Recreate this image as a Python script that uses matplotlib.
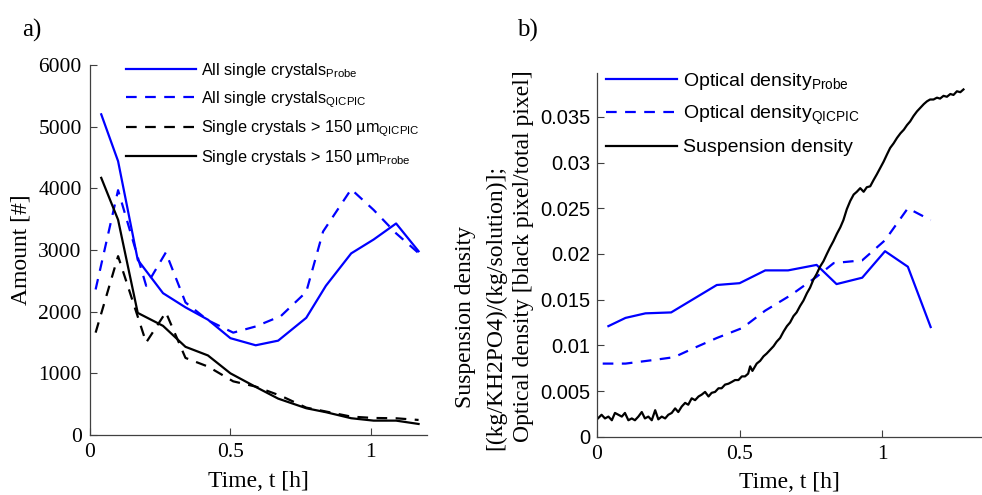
import matplotlib.pyplot as plt

W, H = 982, 495

# ---- panel a) amount of single crystals ----
t_probe = [0.04, 0.10, 0.17, 0.26, 0.34, 0.42, 0.50, 0.59, 0.67, 0.77, 0.84, 0.93, 1.01, 1.09, 1.17]
t_qicpic = [0.02, 0.10, 0.20, 0.27, 0.34, 0.42, 0.51, 0.59, 0.68, 0.77, 0.83, 0.93, 1.01, 1.09, 1.17]

all_probe = [5200, 4440, 2840, 2300, 2070, 1870, 1570, 1455, 1530, 1900, 2420, 2945, 3170, 3430, 2980]
all_qicpic = [2360, 3970, 2420, 2960, 2150, 1860, 1660, 1760, 1930, 2320, 3300, 3985, 3650, 3270, 2950]
big_qicpic = [1660, 2900, 1500, 1990, 1250, 1110, 870, 785, 634, 444, 390, 298, 276, 271, 244]
big_probe = [4170, 3490, 1980, 1770, 1430, 1290, 1000, 780, 590, 434, 370, 272, 233, 233, 179]

# ---- panel b) optical / suspension density ----
od_probe = [0.0121, 0.0130, 0.0135, 0.0136, 0.0151, 0.0166, 0.0168, 0.0182, 0.0182, 0.0188,
            0.0167, 0.0174, 0.0203, 0.0186, 0.0120]
od_qicpic = [0.0080, 0.0080, 0.0084, 0.0087, 0.0097, 0.0108, 0.0119, 0.0138, 0.0155, 0.0175,
             0.0190, 0.0193, 0.0215, 0.0250, 0.0237]

t_susp = [0.000, 0.016, 0.028, 0.040, 0.052, 0.063, 0.075, 0.087, 0.098, 0.110,
          0.122, 0.133, 0.145, 0.157, 0.168, 0.180, 0.192, 0.204, 0.215, 0.227,
          0.239, 0.250, 0.262, 0.274, 0.285, 0.297, 0.309, 0.320, 0.332, 0.344,
          0.356, 0.367, 0.379, 0.391, 0.402, 0.414, 0.426, 0.437, 0.449, 0.461,
          0.473, 0.484, 0.496, 0.508, 0.519, 0.530, 0.537, 0.545, 0.560, 0.572,
          0.584, 0.595, 0.607, 0.619, 0.630, 0.642, 0.654, 0.666, 0.677, 0.689,
          0.700, 0.712, 0.724, 0.736, 0.747, 0.759, 0.770, 0.782, 0.794, 0.806,
          0.817, 0.829, 0.841, 0.853, 0.864, 0.876, 0.888, 0.900, 0.911, 0.923,
          0.935, 0.946, 0.958, 0.970, 0.981, 0.993, 1.005, 1.017, 1.028, 1.040,
          1.052, 1.064, 1.076, 1.087, 1.098, 1.110, 1.122, 1.134, 1.146, 1.157,
          1.168, 1.180, 1.192, 1.203, 1.215, 1.227, 1.239, 1.250, 1.262, 1.274, 1.285]
susp = [0.0019, 0.0024, 0.0020, 0.0022, 0.0018, 0.0026, 0.0024, 0.0022, 0.0026, 0.0018,
        0.0020, 0.0018, 0.0022, 0.0027, 0.0020, 0.0022, 0.0018, 0.0029, 0.0019, 0.0022,
        0.0020, 0.0024, 0.0026, 0.0031, 0.0027, 0.0033, 0.0037, 0.0035, 0.0042, 0.0040,
        0.0044, 0.0046, 0.0049, 0.0044, 0.0048, 0.0049, 0.0053, 0.0053, 0.0057, 0.0058,
        0.0060, 0.0062, 0.0062, 0.0066, 0.0066, 0.0069, 0.0077, 0.0072, 0.0080, 0.0083,
        0.0088, 0.0091, 0.0095, 0.0099, 0.0104, 0.0108, 0.0115, 0.0121, 0.0125, 0.0132,
        0.0136, 0.0143, 0.0149, 0.0157, 0.0163, 0.0172, 0.0178, 0.0186, 0.0192, 0.0200,
        0.0207, 0.0214, 0.0222, 0.0229, 0.0237, 0.0249, 0.0258, 0.0265, 0.0268, 0.0272,
        0.0268, 0.0273, 0.0274, 0.0281, 0.0287, 0.0294, 0.0301, 0.0309, 0.0316, 0.0321,
        0.0327, 0.0332, 0.0336, 0.0341, 0.0345, 0.0351, 0.0356, 0.0360, 0.0364, 0.0367,
        0.0369, 0.0369, 0.0371, 0.0370, 0.0373, 0.0372, 0.0375, 0.0374, 0.0378, 0.0377, 0.0380]

serif = 'Liberation Serif'
sans = 'Liberation Sans'
blue = '#0000ff'
dash = (4.8, 3.8)


def fx(x, y):
    # pixel position -> figure fraction
    return x / W, 1 - y / H


def style_axes(ax):
    for s in ['top', 'right']:
        ax.spines[s].set_visible(False)
    for s in ['left', 'bottom']:
        ax.spines[s].set_color('#404040')
        ax.spines[s].set_linewidth(0.9)
    ax.tick_params(direction='in', length=5, width=0.8, color='#404040')


fig = plt.figure(figsize=(W / 100, H / 100), dpi=100)

# ---------- a) ----------
ax1 = fig.add_axes([90 / W, 60 / H, 337 / W, 370 / H])
style_axes(ax1)
ax1.plot(t_probe, all_probe, color=blue, lw=1.6,
         label=r'All single crystals$_{\mathregular{Probe}}$')
ax1.plot(t_qicpic, all_qicpic, color=blue, lw=1.6, dashes=dash,
         label=r'All single crystals$_{\mathregular{QICPIC}}$')
ax1.plot(t_qicpic, big_qicpic, color='black', lw=1.6, dashes=dash,
         label=r'Single crystals > 150 µm$_{\mathregular{QICPIC}}$')
ax1.plot(t_probe, big_probe, color='black', lw=1.6,
         label=r'Single crystals > 150 µm$_{\mathregular{Probe}}$')
ax1.set_xlim(0, 1.2)
ax1.set_ylim(0, 6000)
ax1.set_xticks([0, 0.5, 1])
ax1.set_xticklabels(['0', '0.5', '1'])
ax1.set_yticks(range(0, 6001, 1000))
ax1.tick_params(axis='y', pad=6)
ax1.tick_params(axis='x', pad=6)
for lab in ax1.get_xticklabels() + ax1.get_yticklabels():
    lab.set_fontfamily(serif)
    lab.set_fontsize(15.5)
ax1.set_xlabel('Time, t [h]', fontfamily=serif, fontsize=17, labelpad=6)
ax1.set_ylabel('Amount [#]', fontfamily=serif, fontsize=17, labelpad=5)
leg1 = ax1.legend(loc='upper left', bbox_to_anchor=fx(126, 61), bbox_transform=fig.transFigure,
                  frameon=False, prop={'family': sans, 'size': 11.7}, handlelength=4.3,
                  handletextpad=0.3, borderpad=0, borderaxespad=0, labelspacing=0.55)

# ---------- b) ----------
ax2 = fig.add_axes([597 / W, (H - 436.7) / H, 385 / W, 363.7 / H])
style_axes(ax2)
ax2.plot(t_probe, od_probe, color=blue, lw=1.6,
         label=r'Optical density$_{\mathregular{Probe}}$')
ax2.plot(t_qicpic, od_qicpic, color=blue, lw=1.6, dashes=dash,
         label=r'Optical density$_{\mathregular{QICPIC}}$')
ax2.plot(t_susp, susp, color='black', lw=1.6, label='Suspension density')
ax2.set_xlim(0, 1.35)
ax2.set_ylim(0, 0.0398)
ax2.set_xticks([0, 0.5, 1])
ax2.set_xticklabels(['0', '0.5', '1'])
yt = [0, 0.005, 0.01, 0.015, 0.02, 0.025, 0.03, 0.035]
ax2.set_yticks(yt)
ax2.set_yticklabels(['0', '0.005', '0.01', '0.015', '0.02', '0.025', '0.03', '0.035'])
ax2.tick_params(axis='y', pad=5)
ax2.tick_params(axis='x', pad=6)
for lab in ax2.get_yticklabels():
    lab.set_fontfamily(sans)
    lab.set_fontsize(14.5)
for lab in ax2.get_xticklabels():
    lab.set_fontfamily(serif)
    lab.set_fontsize(15.5)
ax2.set_xlabel('Time, t [h]', fontfamily=serif, fontsize=17, labelpad=6)
leg2 = ax2.legend(loc='upper left', bbox_to_anchor=fx(606, 71), bbox_transform=fig.transFigure,
                  frameon=False, prop={'family': sans, 'size': 14}, handlelength=3.67,
                  handletextpad=0.3, borderpad=0, borderaxespad=0, labelspacing=0.6)

# multi-line y label of panel b
fig.text(*fx(466, 317), 'Suspension density', rotation=90, ha='center', va='center',
         fontfamily=serif, fontsize=17)
fig.text(*fx(496, 307), '[(kg/KH2PO4)/(kg/solution)];', rotation=90, ha='center', va='center',
         fontfamily=serif, fontsize=17)
fig.text(*fx(524, 256), 'Optical density [black pixel/total pixel]', rotation=90, ha='center',
         va='center', fontfamily=serif, fontsize=17)

fig.text(*fx(32, 30), 'a)', ha='center', va='center', fontfamily=serif, fontsize=18)
fig.text(*fx(527, 30), 'b)', ha='center', va='center', fontfamily=serif, fontsize=18)

fig.savefig('out.png', dpi=100)
